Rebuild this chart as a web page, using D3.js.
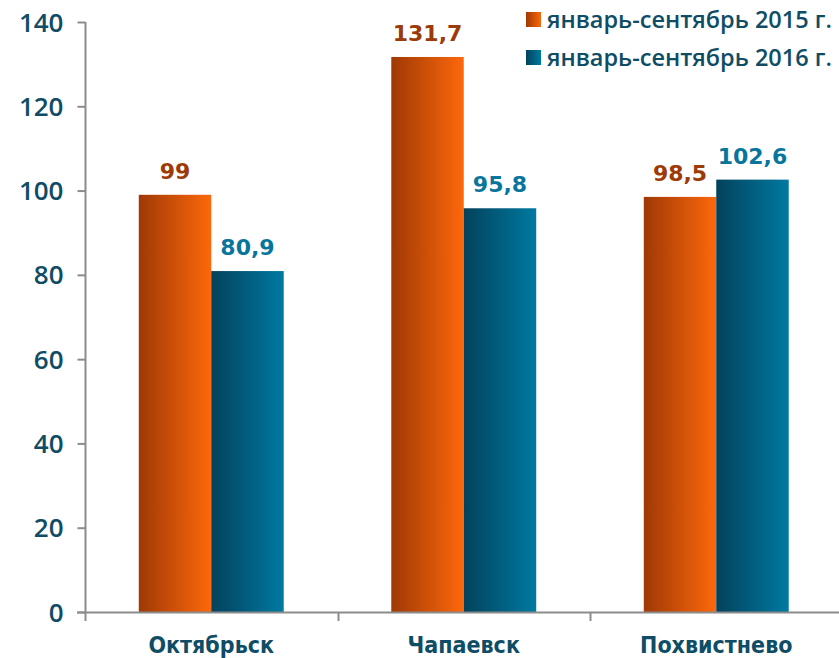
<!DOCTYPE html>
<html><head><meta charset="utf-8">
<script src="https://cdn.jsdelivr.net/npm/d3@7"></script>
<style>body{margin:0;background:#fff}</style>
</head><body>
<script>
const categories = ["Октябрьск", "Чапаевск", "Похвистнево"];
const seriesNames = ["январь-сентябрь 2015 г.", "январь-сентябрь 2016 г."];
const values2015 = [99, 131.7, 98.5];
const values2016 = [80.9, 95.8, 102.6];
const labels2015 = ["99", "131,7", "98,5"];
const labels2016 = ["80,9", "95,8", "102,6"];
const yTicks = [0, 20, 40, 60, 80, 100, 120, 140];

const W = 839, H = 658;
const svg = d3.select("body").append("svg").attr("width", W).attr("height", H);
const defs = svg.append("defs");
function grad(id, c1, c2) {
  const g = defs.append("linearGradient").attr("id", id).attr("x1", "0").attr("x2", "1").attr("y1", "0").attr("y2", "0");
  g.append("stop").attr("offset", "0").attr("stop-color", c1);
  g.append("stop").attr("offset", "1").attr("stop-color", c2);
}
grad("gOrange", "#9f3905", "#fd680b");
grad("gTeal", "#03425c", "#0079a1");

const y = d3.scaleLinear().domain([0, 140]).range([612, 22]);
const x0 = d3.scaleBand().domain(categories).range([85, 842.5]).paddingInner(0.426).paddingOuter(0.213);
const x1 = d3.scaleBand().domain([0, 1]).range([0, x0.bandwidth()]);

const axisColor = "#8c8c8c";
const textColor = "#0f4d66";

// y axis
const yAxis = svg.append("g").attr("transform", "translate(85.5,0)")
  .call(d3.axisLeft(y).tickValues(yTicks).tickSize(8).tickPadding(14).tickFormat(d3.format("d")));
yAxis.select(".domain").attr("stroke", axisColor).attr("stroke-width", 2).attr("d", `M0,${y(140)}V${y(0)}`);
yAxis.selectAll(".tick line").attr("stroke", axisColor).attr("stroke-width", 2);
yAxis.selectAll(".tick text").attr("fill", textColor).attr("font-family", "'Open Sans', sans-serif")
  .attr("font-size", 26).attr("font-weight", 600).attr("dy", "0.35em");

// bars
const series = [
  {vals: values2015, labels: labels2015, fill: "url(#gOrange)", lab: "#9c3a08"},
  {vals: values2016, labels: labels2016, fill: "url(#gTeal)", lab: "#08769c"}
];
series.forEach((s, si) => {
  svg.append("g").selectAll("rect").data(categories).join("rect")
    .attr("x", c => x0(c) + x1(si))
    .attr("width", x1.bandwidth())
    .attr("y", (c, i) => y(s.vals[i]))
    .attr("height", (c, i) => y(0) - y(s.vals[i]))
    .attr("fill", s.fill);
  svg.append("g").selectAll("text").data(categories).join("text")
    .attr("x", c => x0(c) + x1(si) + x1.bandwidth() / 2)
    .attr("y", (c, i) => y(s.vals[i]) - 16)
    .attr("text-anchor", "middle")
    .attr("font-family", "'DejaVu Sans', sans-serif").attr("font-weight", "bold").attr("font-size", 22)
    .attr("fill", s.lab)
    .text((c, i) => s.labels[i]);
});

// x axis
const xAxisG = svg.append("g");
xAxisG.append("line").attr("x1", 77).attr("x2", W).attr("y1", 612.5).attr("y2", 612.5)
  .attr("stroke", axisColor).attr("stroke-width", 2);
const bounds = [85].concat(categories.slice(1).map(c => x0(c) - x0.step() * x0.paddingInner() / 2));
xAxisG.selectAll(".bt").data(bounds).join("line").attr("class", "bt")
  .attr("x1", d => Math.round(d) + 0.5).attr("x2", d => Math.round(d) + 0.5)
  .attr("y1", 612).attr("y2", 621).attr("stroke", axisColor).attr("stroke-width", 2);
xAxisG.selectAll(".cl").data(categories).join("text").attr("class", "cl")
  .attr("x", c => x0(c) + x0.bandwidth() / 2).attr("y", 653)
  .attr("text-anchor", "middle")
  .attr("font-family", "'DejaVu Sans Condensed', 'DejaVu Sans', sans-serif").attr("font-weight", "bold")
  .attr("font-size", 23).attr("fill", textColor)
  .text(c => c);

// legend
const leg = svg.append("g");
const legFills = ["url(#gOrange)", "url(#gTeal)"];
seriesNames.forEach((n, i) => {
  const yy = 12 + i * 38;
  leg.append("rect").attr("x", 526).attr("y", yy).attr("width", 15).attr("height", 15).attr("fill", legFills[i]);
  leg.append("text").attr("x", 547).attr("y", yy + 16).attr("font-family", "'Open Sans', sans-serif")
    .attr("font-weight", 600).attr("font-size", 23.5).attr("fill", textColor).text(n);
});
</script>
</body></html>
